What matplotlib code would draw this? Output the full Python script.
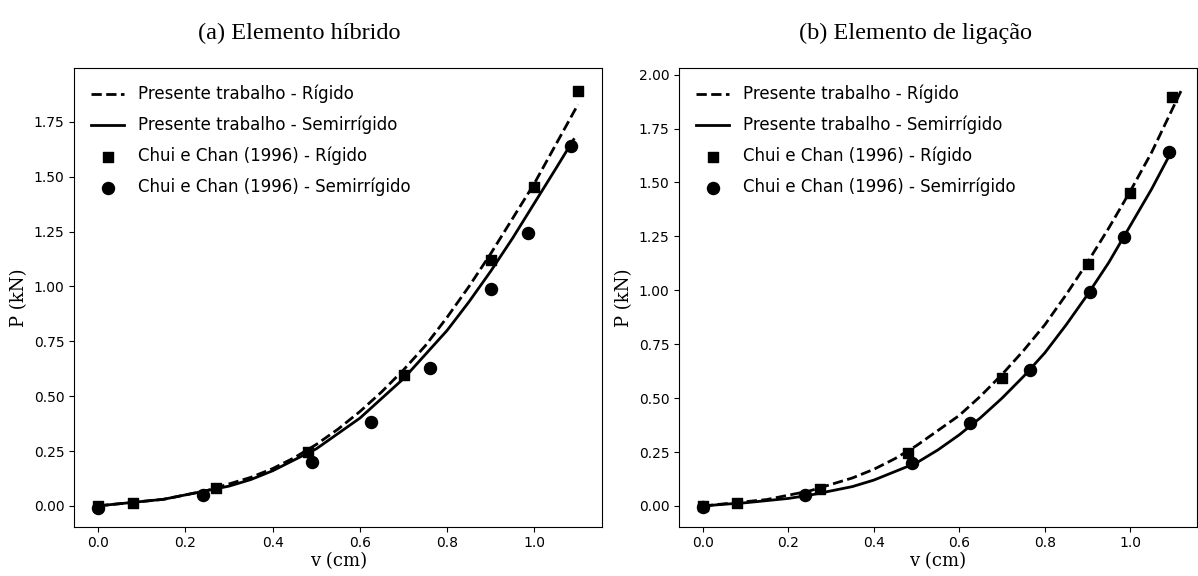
import numpy as np
import matplotlib.pyplot as plt

# (a) Elemento hibrido
xa_line = [0.0, 0.05, 0.1, 0.15, 0.2, 0.25, 0.3, 0.35, 0.4, 0.45, 0.5, 0.55,
           0.6, 0.65, 0.7, 0.75, 0.8, 0.85, 0.9, 0.95, 1.0, 1.05, 1.1]
ya_rig_line = [0.0, 0.01, 0.02, 0.03, 0.05, 0.07, 0.10, 0.13, 0.17, 0.22, 0.28, 0.35,
               0.43, 0.52, 0.62, 0.73, 0.86, 1.00, 1.15, 1.31, 1.47, 1.65, 1.83]
xa_semi_line = [0.0, 0.05, 0.1, 0.15, 0.2, 0.25, 0.3, 0.35, 0.4, 0.45, 0.5, 0.55,
                0.6, 0.65, 0.7, 0.75, 0.8, 0.85, 0.9, 0.95, 1.0, 1.05, 1.09]
ya_semi_line = [0.0, 0.01, 0.02, 0.03, 0.05, 0.07, 0.09, 0.12, 0.16, 0.21, 0.26, 0.33,
                0.40, 0.49, 0.58, 0.69, 0.80, 0.93, 1.07, 1.22, 1.38, 1.54, 1.67]
xa_rig_pts = [0.0, 0.08, 0.27, 0.48, 0.70, 0.90, 1.00, 1.10]
ya_rig_pts = [0.0, 0.015, 0.08, 0.245, 0.595, 1.12, 1.455, 1.89]
xa_semi_pts = [0.0, 0.24, 0.49, 0.625, 0.76, 0.90, 0.985, 1.085]
ya_semi_pts = [-0.01, 0.05, 0.20, 0.38, 0.63, 0.99, 1.245, 1.64]

# (b) Elemento de ligacao
xb_rig_line = [0.0, 0.05, 0.1, 0.15, 0.2, 0.25, 0.3, 0.35, 0.4, 0.45, 0.5, 0.55,
               0.6, 0.65, 0.7, 0.75, 0.8, 0.85, 0.9, 0.95, 1.0, 1.05, 1.12]
yb_rig_line = [0.0, 0.01, 0.02, 0.03, 0.05, 0.07, 0.10, 0.13, 0.17, 0.22, 0.28, 0.35,
               0.42, 0.51, 0.61, 0.72, 0.84, 0.98, 1.13, 1.29, 1.46, 1.64, 1.93]
xb_semi_line = [0.0, 0.05, 0.1, 0.15, 0.2, 0.25, 0.3, 0.35, 0.4, 0.45, 0.5, 0.55,
                0.6, 0.65, 0.7, 0.75, 0.8, 0.85, 0.9, 0.95, 1.0, 1.05, 1.09]
yb_semi_line = [0.0, 0.008, 0.015, 0.025, 0.035, 0.05, 0.07, 0.09, 0.12, 0.16, 0.20, 0.26,
                0.33, 0.41, 0.50, 0.60, 0.71, 0.84, 0.98, 1.13, 1.30, 1.47, 1.62]
xb_rig_pts = [0.0, 0.08, 0.275, 0.48, 0.70, 0.90, 1.00, 1.098]
yb_rig_pts = [0.0, 0.015, 0.08, 0.245, 0.595, 1.12, 1.45, 1.895]
xb_semi_pts = [0.0, 0.24, 0.49, 0.625, 0.765, 0.905, 0.985, 1.09]
yb_semi_pts = [-0.005, 0.05, 0.20, 0.385, 0.63, 0.99, 1.245, 1.64]

labels = ["Presente trabalho - Rígido", "Presente trabalho - Semirrígido",
          "Chui e Chan (1996) - Rígido", "Chui e Chan (1996) - Semirrígido"]


def draw(ax, xr, yr, xs, ys, xrp, yrp, xsp, ysp, ylim):
    ax.plot(xr, yr, "k--", lw=2, label=labels[0])
    ax.plot(xs, ys, "k-", lw=2, label=labels[1])
    ax.scatter(xrp, yrp, marker="s", s=45, c="k", label=labels[2], zorder=3)
    ax.scatter(xsp, ysp, marker="o", s=75, c="k", label=labels[3], zorder=3)
    ax.set_xlim(-0.055, 1.155)
    ax.set_ylim(*ylim)
    ax.set_xlabel("v (cm)", family="DejaVu Serif", fontsize=13, labelpad=1)
    ax.set_ylabel("P (kN)", family="DejaVu Serif", fontsize=13)
    ax.tick_params(labelsize=10)
    ax.legend(loc="upper left", frameon=False, fontsize=12,
              labelspacing=0.75, borderaxespad=0.6)


fig = plt.figure(figsize=(11.98, 5.76), dpi=100)
ax1 = fig.add_axes([0.062, 0.0856, 0.4405, 0.796])
ax2 = fig.add_axes([0.567, 0.0856, 0.4318, 0.796])

draw(ax1, xa_line, ya_rig_line, xa_semi_line, ya_semi_line,
     xa_rig_pts, ya_rig_pts, xa_semi_pts, ya_semi_pts, (-0.095, 1.995))
draw(ax2, xb_rig_line, yb_rig_line, xb_semi_line, yb_semi_line,
     xb_rig_pts, yb_rig_pts, xb_semi_pts, yb_semi_pts, (-0.096, 2.03))

fig.text(0.25, 0.942, "(a) Elemento híbrido", family="Liberation Serif",
         fontsize=17.5, ha="center", va="center")
fig.text(0.764, 0.942, "(b) Elemento de ligação", family="Liberation Serif",
         fontsize=17.5, ha="center", va="center")

fig.savefig("out.png", dpi=100)
